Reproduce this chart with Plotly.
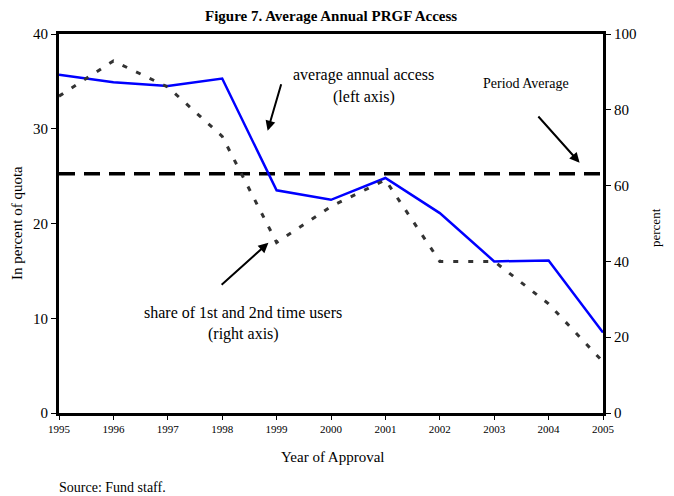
import plotly.graph_objects as go

# data
years = [1995, 1996, 1997, 1998, 1999, 2000, 2001, 2002, 2003, 2004, 2005]
avg_access = [35.7, 34.9, 34.5, 35.3, 23.5, 22.5, 24.8, 21.1, 16.0, 16.1, 8.5]
share_users = [83.6, 92.9, 86.0, 73.0, 45.0, 54.5, 61.5, 40.0, 40.0, 28.8, 13.5]
period_avg = [25.25] * len(years)

FONT = "Liberation Serif"

# plot box in window pixels: x 59..603, y 34..413 (page body adds 8px offset)
PY0, PH = 413, 379
PX0, PW = 59, 544


def py(y):
    """window pixel y -> paper y"""
    return (PY0 - y) / PH


def px_(x):
    """window pixel x -> paper x"""
    return (x - PX0) / PW


fig = go.Figure()

fig.add_trace(go.Scatter(
    x=years, y=period_avg, mode='lines', yaxis='y',
    line=dict(color='black', width=3.5, dash='16px,9px'),
    hoverinfo='skip'
))
fig.add_trace(go.Scatter(
    x=years, y=share_users, mode='lines', yaxis='y2',
    line=dict(color='#333333', width=3, dash='5px,10px')
))
fig.add_trace(go.Scatter(
    x=years, y=avg_access, mode='lines', yaxis='y',
    line=dict(color='#0000FF', width=2.5)
))

arrow = dict(showarrow=True, arrowhead=2, arrowsize=1, arrowwidth=2,
             arrowcolor='black', xref='x', yref='y', text='')


def label(text, x, y, size=16, **kw):
    d = dict(text=text, x=px_(x), y=py(y), xref='paper', yref='paper',
             showarrow=False, xanchor='center', yanchor='middle',
             font=dict(size=size))
    d.update(kw)
    return d


annotations = [
    label('<b>Figure 7. Average Annual PRGF Access</b>', 331, 16, 15),
    label('average annual access', 363.5, 75),
    label('(left axis)', 363.5, 97),
    label('Period Average', 526, 83, 14),
    label('share of 1st and 2nd time users', 243, 312),
    label('(right axis)', 243, 334),
    dict(arrow, x=1998.835, y=29.79, ax=14, ay=-48),
    dict(arrow, x=2004.57, y=26.42, ax=-42.6, ay=-47.7),
    dict(arrow, x=1998.85, y=17.97, ax=-48.3, ay=43.3),
    label('In percent of quota', 17, 223, 15, textangle=-90),
    label('percent', 655, 228, 13, textangle=-90),
    label('Year of Approval', 332, 457, 15),
    label('Source: Fund staff.', 57, 487, 14, xanchor='left'),
]

fig.update_layout(
    width=666, height=488,
    margin=dict(l=51, r=71, t=26, b=83),
    paper_bgcolor='white', plot_bgcolor='white',
    font=dict(family=FONT, color='black'),
    showlegend=False,
    xaxis=dict(
        range=[1995, 2005], tickvals=years, ticks='outside', ticklen=4,
        tickcolor='black', tickfont=dict(size=11), showgrid=False,
        showline=True, linecolor='black', linewidth=3, mirror=True,
        zeroline=False, fixedrange=True
    ),
    yaxis=dict(
        range=[0, 40], dtick=10, ticks='outside', ticklen=5, tickcolor='black',
        tickfont=dict(size=15), showgrid=False, showline=True,
        linecolor='black', linewidth=3, zeroline=False
    ),
    yaxis2=dict(
        range=[0, 100], dtick=20, overlaying='y', side='right',
        ticks='outside', ticklen=5, tickcolor='black', tickfont=dict(size=15),
        showgrid=False, showline=True, linecolor='black', linewidth=3,
        zeroline=False
    ),
    annotations=annotations
)

fig.write_html("out.html")
